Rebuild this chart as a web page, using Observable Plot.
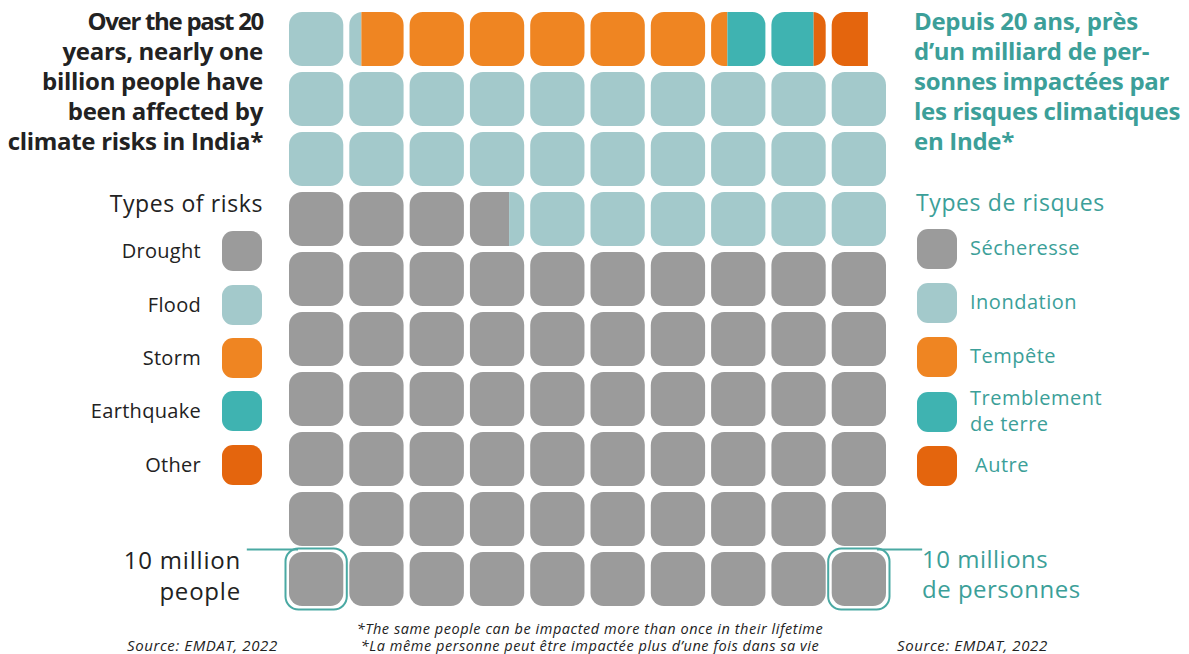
<!DOCTYPE html>
<html>
<head>
<meta charset="utf-8">
<script src="https://cdn.jsdelivr.net/npm/d3@7"></script>
<script src="https://cdn.jsdelivr.net/npm/@observablehq/plot@0.6"></script>
<style>
  html, body { margin: 0; padding: 0; background: #fff; }
  #root { position: relative; width: 1189px; height: 654px; overflow: hidden; font-family: "Open Sans", "Noto Sans", sans-serif; color: #222; }
  #root svg { position: absolute; left: 0; top: 0; }
  .t { position: absolute; white-space: nowrap; }
  .teal { color: #3c9f99; }
  .sw { position: absolute; width: 40px; height: 40px; border-radius: 11px; }
</style>
</head>
<body>
<div id="root"></div>
<script>
// ---- data ----
const categories = ["Drought", "Flood", "Storm", "Earthquake", "Other"];
const categoriesFr = ["Sécheresse", "Inondation", "Tempête", "Tremblement|de terre", "Autre"];
const affectedMillions = [637, 275.5, 60.7, 14.3, 9.0];
const colors = ["#9b9b9b", "#a3c9cb", "#ef8522", "#3fb3b1", "#e4650d"];
const unitMillions = 10;           // one cell = 10 million people
const columns = 10;
const rows = 10;
const titleEn = ["Over the past 20", "years, nearly one", "billion people have", "been affected by", "climate risks in India*"];
const titleFr = ["Depuis 20 ans, près", "d’un milliard de per-", "sonnes impactées par", "les risques climatiques", "en Inde*"];
const unitLabelEn = ["10 million", "people"];
const unitLabelFr = ["10 millions", "de personnes"];
const footnotes = ["*The same people can be impacted more than once in their lifetime", "*La même personne peut être impactée plus d’une fois dans sa vie"];
const source = "Source: EMDAT, 2022";

// ---- derived waffle segments ----
const segs = [];
let start = 0;
categories.forEach((c, i) => {
  const end = start + affectedMillions[i] / unitMillions;
  for (let k = Math.floor(start); k < Math.ceil(end); k++) {
    const a = Math.max(start, k), b = Math.min(end, k + 1);
    if (b <= a) continue;
    const col = k % columns, row = Math.floor(k / columns);
    segs.push({cat: c, x1: col + (a - k), x2: col + (b - k), y1: row, y2: row + 1});
  }
  start = end;
});
const nCells = Math.ceil(start);
const cells = d3.range(nCells).map(k => ({col: k % columns, row: Math.floor(k / columns)}));
const highlighted = [cells[0], cells[columns - 1]];

const teal = "#4aa9a3";
const plot = Plot.plot({
  width: 1189, height: 654,
  marginLeft: 286, marginRight: 300, marginTop: 9, marginBottom: 45,
  x: {domain: [0, columns], axis: null},
  y: {domain: [0, rows], axis: null},
  color: {domain: categories, range: colors},
  marks: [
    Plot.rect(cells, {x1: "col", x2: d => d.col + 1, y1: "row", y2: d => d.row + 1, inset: 3, rx: 13, fill: "black", ariaDescription: "clipcells"}),
    Plot.rect(segs, {x1: "x1", x2: "x2", y1: "y1", y2: "y2", insetTop: 3, insetBottom: 3, fill: "cat", ariaDescription: "segs"}),
    Plot.rect(highlighted, {x1: "col", x2: d => d.col + 1, y1: "row", y2: d => d.row + 1, inset: -0.5, rx: 13, fill: "none", stroke: teal, strokeWidth: 2}),
    Plot.ruleY([cells[0]], {y: d => d.row + 1, x1: -0.65, x2: d => d.col + 0.2, stroke: teal, strokeWidth: 2, clip: false}),
    Plot.ruleY([cells[columns - 1]], {y: d => d.row + 1, x1: d => d.col + 0.8, x2: columns + 0.55, stroke: teal, strokeWidth: 2, clip: false})
  ]
});

// turn the rounded cells into a clip path for the segments
const svg = d3.select(plot);
const clipG = svg.select('g[aria-description="clipcells"]');
const segG = svg.select('g[aria-description="segs"]');
let defs = svg.select("defs");
if (defs.empty()) defs = svg.insert("defs", ":first-child");
const cp = defs.append("clipPath").attr("id", "waffle-clip");
clipG.selectAll("rect").each(function() { cp.node().appendChild(this.cloneNode(true)); });
clipG.remove();
segG.attr("clip-path", "url(#waffle-clip)");

const root = document.getElementById("root");
root.appendChild(plot);

function addText(html, style, cls) {
  const d = document.createElement("div");
  d.className = "t " + (cls || "");
  d.innerHTML = html;
  Object.assign(d.style, style);
  root.appendChild(d);
  return d;
}

// titles
const enLines = titleEn.map((l, i) => i === 0 ? `<span style="letter-spacing:-1.3px">${l}</span>` : l);
addText(enLines.join("<br>"), {left: "0px", width: "263px", textAlign: "right", top: "6px", font: "700 24px/30px 'Open Sans'", letterSpacing: "-0.3px"});
addText(titleFr.join("<br>"), {left: "914px", top: "6px", font: "700 24px/30px 'Open Sans'", letterSpacing: "-0.3px"}, "teal");

// legends
addText("Types of risks", {left: "0px", width: "263px", textAlign: "right", top: "188px", font: "400 23px/30px 'Open Sans'", letterSpacing: "0.6px"});
addText("Types de risques", {left: "916px", top: "187px", font: "400 23px/30px 'Open Sans'", letterSpacing: "0.6px"}, "teal");
const leftY = [251, 305, 358, 411, 465];
const rightY = [249, 303, 357, 412, 466];
categories.forEach((c, i) => {
  const s = document.createElement("div");
  s.className = "sw"; s.style.left = "222px"; s.style.top = (leftY[i] - 20) + "px"; s.style.background = colors[i];
  root.appendChild(s);
  addText(c, {left: "0px", width: "201px", textAlign: "right", top: (leftY[i] - 14) + "px", font: "400 20px/27px 'Open Sans'", letterSpacing: "0.3px"});
  const s2 = document.createElement("div");
  s2.className = "sw"; s2.style.left = "917px"; s2.style.top = (rightY[i] - 20) + "px"; s2.style.background = colors[i];
  root.appendChild(s2);
  const parts = categoriesFr[i].split("|");
  addText(parts.join("<br>"), {left: (i === 4 ? 975 : 970) + "px", top: (rightY[i] - 13 * parts.length - 1) + "px", font: "400 20px/26px 'Open Sans'", letterSpacing: "0.5px"}, "teal");
});

// unit labels
addText(unitLabelEn.join("<br>"), {left: "0px", width: "241px", textAlign: "right", top: "544px", font: "400 24px/31px 'Open Sans'", letterSpacing: "0.8px"});
addText(unitLabelFr.join("<br>"), {left: "922px", top: "544px", font: "400 24px/30px 'Open Sans'", letterSpacing: "0.5px"}, "teal");

// footer
addText(source, {left: "127px", top: "635px", font: "italic 400 15px/20px 'Open Sans'", letterSpacing: "0.6px"});
addText(source, {left: "897px", top: "635px", font: "italic 400 15px/20px 'Open Sans'", letterSpacing: "0.6px"});
addText(footnotes.join("<br>"), {left: "290px", width: "600px", textAlign: "center", top: "620px", font: "italic 400 14.5px/17px 'Open Sans'", letterSpacing: "0.55px"});
</script>
</body>
</html>
